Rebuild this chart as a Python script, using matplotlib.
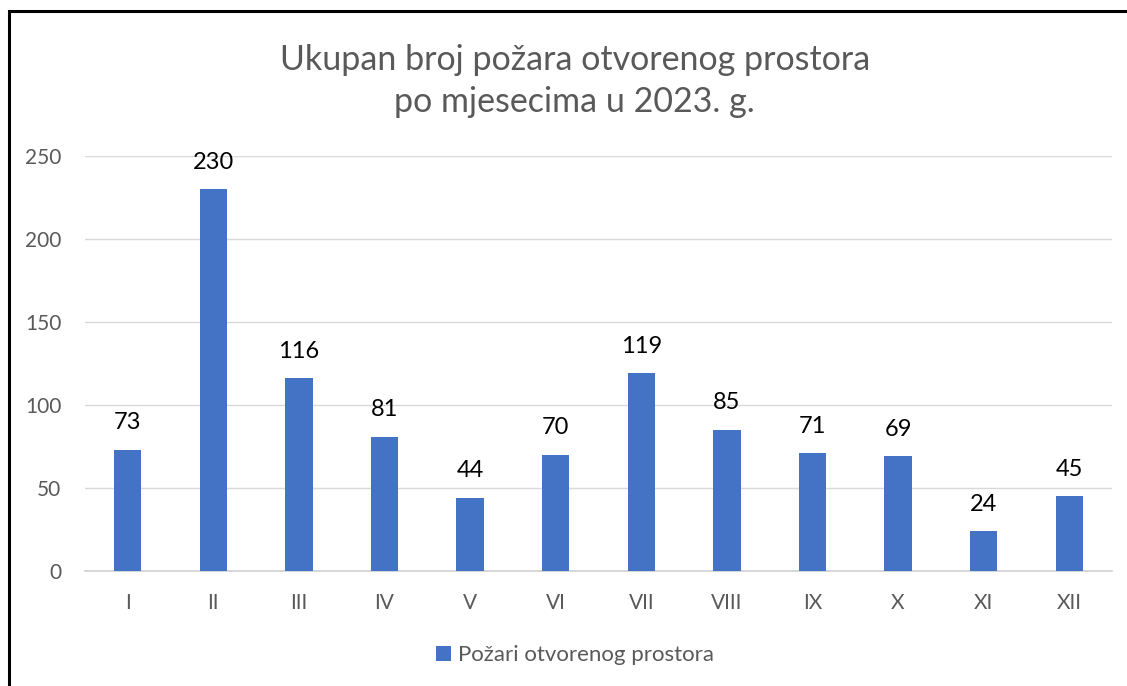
import matplotlib.pyplot as plt
from matplotlib.patches import Rectangle

plt.rcParams['font.family'] = ['Lato', 'DejaVu Sans']

months = ['I', 'II', 'III', 'IV', 'V', 'VI', 'VII', 'VIII', 'IX', 'X', 'XI', 'XII']
fires = [73, 230, 116, 81, 44, 70, 119, 85, 71, 69, 24, 45]
series_name = 'Požari otvorenog prostora'
title = 'Ukupan broj požara otvorenog prostora\npo mjesecima u 2023. g.'

bar_color = '#4472c4'
text_gray = '#595959'

fig = plt.figure(figsize=(11.27, 6.86), dpi=100)
ax = fig.add_axes([0.0754, 0.1676, 0.9113, 0.605])

x = range(len(months))
bars = ax.bar(x, fires, width=0.32, color=bar_color, label=series_name, zorder=3)
for xi, v in zip(x, fires):
    ax.text(xi, v + 10, str(v), ha='center', va='bottom', fontsize=17, color='black')

ax.set_xlim(-0.5, len(months) - 0.5)
ax.set_ylim(0, 250)
ax.set_yticks([0, 50, 100, 150, 200, 250])
ax.set_xticks(list(x))
ax.set_xticklabels(months)
ax.tick_params(axis='both', length=0, labelsize=15, colors=text_gray)
ax.tick_params(axis='y', pad=17)
ax.tick_params(axis='x', pad=16)
ax.grid(axis='y', color='#d9d9d9', linewidth=1, zorder=0)
for side in ['top', 'right', 'left']:
    ax.spines[side].set_visible(False)
ax.spines['bottom'].set_color('#d0d0d0')
ax.spines['bottom'].set_linewidth(1.2)

fig.text(0.51, 0.882, title, ha='center', va='center', fontsize=24.5,
         color=text_gray, linespacing=1.4)

fig.legend(handles=[bars], labels=[series_name], loc='center',
           bbox_to_anchor=(0.51, 0.045), frameon=False, fontsize=16,
           handlelength=0.7, handleheight=0.7, handletextpad=0.3,
           labelcolor=text_gray)

# chart border, running off the right and bottom edges
fig.patches.append(Rectangle((9 / 1127, -0.05), 1.2, (686 - 11) / 686 + 0.05,
                             transform=fig.transFigure, fill=False,
                             edgecolor='black', linewidth=2.2, zorder=10))

fig.savefig('out.png', dpi=100)
